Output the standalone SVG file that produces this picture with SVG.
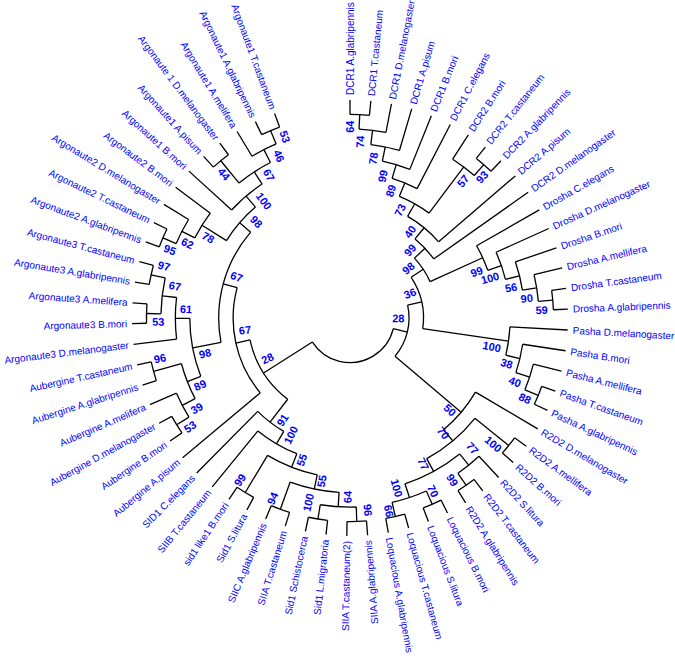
<svg xmlns="http://www.w3.org/2000/svg" width="675" height="658" viewBox="0 0 675 658">
<style>
.e{fill:none;stroke:#000;stroke-width:1.3}
.t{font-family:"Liberation Sans",Arial,sans-serif;font-size:10px;fill:#0000ff;dominant-baseline:central}
.l{text-anchor:end}
.b{font-family:"Liberation Sans",Arial,sans-serif;font-size:11px;font-weight:bold;fill:#0000ff;text-anchor:middle;dominant-baseline:central}
</style>
<rect width="675" height="658" fill="#fff"/>
<g id="connectors" class="e" transform="translate(350 318)">
<circle r="203.55" stroke-dasharray="19.47 9999" transform="rotate(-90)"/>
<circle r="189.1" stroke-dasharray="27.13 9999" transform="rotate(-87.26)"/>
<circle r="174.65" stroke-dasharray="29.23 9999" transform="rotate(-83.15)"/>
<circle r="160.2" stroke-dasharray="28.73 9999" transform="rotate(-78.355)"/>
<circle r="145.75" stroke-dasharray="27.02 9999" transform="rotate(-73.22)"/>
<circle r="203.55" stroke-dasharray="19.47 9999" transform="rotate(-51.64)"/>
<circle r="189.1" stroke-dasharray="27.13 9999" transform="rotate(-57.12)"/>
<circle r="131.3" stroke-dasharray="34.14 9999" transform="rotate(-67.91)"/>
<circle r="116.85" stroke-dasharray="40.34 9999" transform="rotate(-60.46)"/>
<circle r="102.4" stroke-dasharray="27.47 9999" transform="rotate(-50.57)"/>
<circle r="203.55" stroke-dasharray="19.47 9999" transform="rotate(-7.8)"/>
<circle r="189.1" stroke-dasharray="27.13 9999" transform="rotate(-13.28)"/>
<circle r="174.65" stroke-dasharray="29.23 9999" transform="rotate(-18.76)"/>
<circle r="160.2" stroke-dasharray="28.73 9999" transform="rotate(-24.24)"/>
<circle r="145.75" stroke-dasharray="27.02 9999" transform="rotate(-29.72)"/>
<circle r="87.95" stroke-dasharray="28.36 9999" transform="rotate(-42.885)"/>
<circle r="203.55" stroke-dasharray="19.47 9999" transform="rotate(19.6)"/>
<circle r="189.1" stroke-dasharray="27.13 9999" transform="rotate(14.12)"/>
<circle r="174.65" stroke-dasharray="29.23 9999" transform="rotate(8.64)"/>
<circle r="160.2" stroke-dasharray="28.73 9999" transform="rotate(3.16)"/>
<circle r="73.5" stroke-dasharray="53.81 9999" transform="rotate(-33.65)"/>
<circle r="203.55" stroke-dasharray="19.47 9999" transform="rotate(36.04)"/>
<circle r="203.55" stroke-dasharray="19.47 9999" transform="rotate(52.48)"/>
<circle r="189.1" stroke-dasharray="27.13 9999" transform="rotate(47)"/>
<circle r="203.55" stroke-dasharray="19.47 9999" transform="rotate(63.44)"/>
<circle r="203.55" stroke-dasharray="19.47 9999" transform="rotate(74.4)"/>
<circle r="189.1" stroke-dasharray="36.17 9999" transform="rotate(66.18)"/>
<circle r="174.65" stroke-dasharray="62.64 9999" transform="rotate(51.11)"/>
<circle r="160.2" stroke-dasharray="63.2 9999" transform="rotate(38.78)"/>
<circle r="145.75" stroke-dasharray="49.66 9999" transform="rotate(30.56)"/>
<circle r="59.05" stroke-dasharray="54.62 9999" transform="rotate(-12.675)"/>
<circle r="203.55" stroke-dasharray="19.47 9999" transform="rotate(85.36)"/>
<circle r="203.55" stroke-dasharray="19.47 9999" transform="rotate(96.32)"/>
<circle r="189.1" stroke-dasharray="36.17 9999" transform="rotate(88.1)"/>
<circle r="203.55" stroke-dasharray="19.47 9999" transform="rotate(107.28)"/>
<circle r="174.65" stroke-dasharray="50.11 9999" transform="rotate(93.58)"/>
<circle r="203.55" stroke-dasharray="19.47 9999" transform="rotate(118.24)"/>
<circle r="160.2" stroke-dasharray="53.63 9999" transform="rotate(101.8)"/>
<circle r="145.75" stroke-dasharray="45.31 9999" transform="rotate(111.39)"/>
<circle r="131.3" stroke-dasharray="32.96 9999" transform="rotate(120.295)"/>
<circle r="203.55" stroke-dasharray="19.47 9999" transform="rotate(162.08)"/>
<circle r="203.55" stroke-dasharray="19.47 9999" transform="rotate(145.64)"/>
<circle r="189.1" stroke-dasharray="27.13 9999" transform="rotate(148.38)"/>
<circle r="174.65" stroke-dasharray="37.58 9999" transform="rotate(152.49)"/>
<circle r="203.55" stroke-dasharray="19.47 9999" transform="rotate(189.48)"/>
<circle r="203.55" stroke-dasharray="19.47 9999" transform="rotate(178.52)"/>
<circle r="189.1" stroke-dasharray="36.17 9999" transform="rotate(181.26)"/>
<circle r="174.65" stroke-dasharray="41.76 9999" transform="rotate(173.04)"/>
<circle r="160.2" stroke-dasharray="59.37 9999" transform="rotate(158.655)"/>
<circle r="203.55" stroke-dasharray="19.47 9999" transform="rotate(200.44)"/>
<circle r="189.1" stroke-dasharray="27.13 9999" transform="rotate(203.18)"/>
<circle r="174.65" stroke-dasharray="29.23 9999" transform="rotate(207.29)"/>
<circle r="203.55" stroke-dasharray="19.47 9999" transform="rotate(244.28)"/>
<circle r="189.1" stroke-dasharray="27.13 9999" transform="rotate(238.8)"/>
<circle r="203.55" stroke-dasharray="19.47 9999" transform="rotate(227.84)"/>
<circle r="174.65" stroke-dasharray="37.58 9999" transform="rotate(230.58)"/>
<circle r="160.2" stroke-dasharray="40.22 9999" transform="rotate(222.36)"/>
<circle r="145.75" stroke-dasharray="44.43 9999" transform="rotate(212.085)"/>
<circle r="131.3" stroke-dasharray="118.13 9999" transform="rotate(169.27)"/>
<circle r="116.85" stroke-dasharray="111.93 9999" transform="rotate(140.16)"/>
<circle r="102.4" stroke-dasharray="71.69 9999" transform="rotate(127.49)"/>
<circle r="44.6" stroke-dasharray="104.09 9999" transform="rotate(13.82)"/>
<line x1="203.55" x2="218" transform="rotate(-90)"/>
<line x1="203.55" x2="218" transform="rotate(-84.52)"/>
<line x1="189.1" x2="218" transform="rotate(-79.04)"/>
<line x1="174.65" x2="218" transform="rotate(-73.56)"/>
<line x1="160.2" x2="218" transform="rotate(-68.08)"/>
<line x1="145.75" x2="218" transform="rotate(-62.6)"/>
<line x1="189.1" x2="218" transform="rotate(-57.12)"/>
<line x1="203.55" x2="218" transform="rotate(-51.64)"/>
<line x1="203.55" x2="218" transform="rotate(-46.16)"/>
<line x1="116.85" x2="218" transform="rotate(-40.68)"/>
<line x1="102.4" x2="218" transform="rotate(-35.2)"/>
<line x1="145.75" x2="218" transform="rotate(-29.72)"/>
<line x1="160.2" x2="218" transform="rotate(-24.24)"/>
<line x1="174.65" x2="218" transform="rotate(-18.76)"/>
<line x1="189.1" x2="218" transform="rotate(-13.28)"/>
<line x1="203.55" x2="218" transform="rotate(-7.8)"/>
<line x1="203.55" x2="218" transform="rotate(-2.32)"/>
<line x1="160.2" x2="218" transform="rotate(3.16)"/>
<line x1="174.65" x2="218" transform="rotate(8.64)"/>
<line x1="189.1" x2="218" transform="rotate(14.12)"/>
<line x1="203.55" x2="218" transform="rotate(19.6)"/>
<line x1="203.55" x2="218" transform="rotate(25.08)"/>
<line x1="145.75" x2="218" transform="rotate(30.56)"/>
<line x1="203.55" x2="218" transform="rotate(36.04)"/>
<line x1="203.55" x2="218" transform="rotate(41.52)"/>
<line x1="189.1" x2="218" transform="rotate(47)"/>
<line x1="203.55" x2="218" transform="rotate(52.48)"/>
<line x1="203.55" x2="218" transform="rotate(57.96)"/>
<line x1="203.55" x2="218" transform="rotate(63.44)"/>
<line x1="203.55" x2="218" transform="rotate(68.92)"/>
<line x1="203.55" x2="218" transform="rotate(74.4)"/>
<line x1="203.55" x2="218" transform="rotate(79.88)"/>
<line x1="203.55" x2="218" transform="rotate(85.36)"/>
<line x1="203.55" x2="218" transform="rotate(90.84)"/>
<line x1="203.55" x2="218" transform="rotate(96.32)"/>
<line x1="203.55" x2="218" transform="rotate(101.8)"/>
<line x1="203.55" x2="218" transform="rotate(107.28)"/>
<line x1="203.55" x2="218" transform="rotate(112.76)"/>
<line x1="203.55" x2="218" transform="rotate(118.24)"/>
<line x1="203.55" x2="218" transform="rotate(123.72)"/>
<line x1="145.75" x2="218" transform="rotate(129.2)"/>
<line x1="131.3" x2="218" transform="rotate(134.68)"/>
<line x1="116.85" x2="218" transform="rotate(140.16)"/>
<line x1="203.55" x2="218" transform="rotate(145.64)"/>
<line x1="203.55" x2="218" transform="rotate(151.12)"/>
<line x1="189.1" x2="218" transform="rotate(156.6)"/>
<line x1="203.55" x2="218" transform="rotate(162.08)"/>
<line x1="203.55" x2="218" transform="rotate(167.56)"/>
<line x1="174.65" x2="218" transform="rotate(173.04)"/>
<line x1="203.55" x2="218" transform="rotate(178.52)"/>
<line x1="203.55" x2="218" transform="rotate(184)"/>
<line x1="203.55" x2="218" transform="rotate(189.48)"/>
<line x1="203.55" x2="218" transform="rotate(194.96)"/>
<line x1="203.55" x2="218" transform="rotate(200.44)"/>
<line x1="203.55" x2="218" transform="rotate(205.92)"/>
<line x1="189.1" x2="218" transform="rotate(211.4)"/>
<line x1="174.65" x2="218" transform="rotate(216.88)"/>
<line x1="160.2" x2="218" transform="rotate(222.36)"/>
<line x1="203.55" x2="218" transform="rotate(227.84)"/>
<line x1="203.55" x2="218" transform="rotate(233.32)"/>
<line x1="189.1" x2="218" transform="rotate(238.8)"/>
<line x1="203.55" x2="218" transform="rotate(244.28)"/>
<line x1="203.55" x2="218" transform="rotate(249.76)"/>
<line x1="189.1" x2="203.55" transform="rotate(-87.26)"/>
<line x1="174.65" x2="189.1" transform="rotate(-83.15)"/>
<line x1="160.2" x2="174.65" transform="rotate(-78.355)"/>
<line x1="145.75" x2="160.2" transform="rotate(-73.22)"/>
<line x1="131.3" x2="145.75" transform="rotate(-67.91)"/>
<line x1="189.1" x2="203.55" transform="rotate(-48.9)"/>
<line x1="131.3" x2="189.1" transform="rotate(-53.01)"/>
<line x1="116.85" x2="131.3" transform="rotate(-60.46)"/>
<line x1="102.4" x2="116.85" transform="rotate(-50.57)"/>
<line x1="87.95" x2="102.4" transform="rotate(-42.885)"/>
<line x1="189.1" x2="203.55" transform="rotate(-5.06)"/>
<line x1="174.65" x2="189.1" transform="rotate(-9.17)"/>
<line x1="160.2" x2="174.65" transform="rotate(-13.965)"/>
<line x1="145.75" x2="160.2" transform="rotate(-19.1)"/>
<line x1="87.95" x2="145.75" transform="rotate(-24.41)"/>
<line x1="73.5" x2="87.95" transform="rotate(-33.65)"/>
<line x1="189.1" x2="203.55" transform="rotate(22.34)"/>
<line x1="174.65" x2="189.1" transform="rotate(18.23)"/>
<line x1="160.2" x2="174.65" transform="rotate(13.435)"/>
<line x1="73.5" x2="160.2" transform="rotate(8.3)"/>
<line x1="59.05" x2="73.5" transform="rotate(-12.675)"/>
<line x1="160.2" x2="203.55" transform="rotate(38.78)"/>
<line x1="189.1" x2="203.55" transform="rotate(55.22)"/>
<line x1="174.65" x2="189.1" transform="rotate(51.11)"/>
<line x1="189.1" x2="203.55" transform="rotate(66.18)"/>
<line x1="189.1" x2="203.55" transform="rotate(77.14)"/>
<line x1="174.65" x2="189.1" transform="rotate(71.66)"/>
<line x1="160.2" x2="174.65" transform="rotate(61.385)"/>
<line x1="145.75" x2="160.2" transform="rotate(50.08)"/>
<line x1="59.05" x2="145.75" transform="rotate(40.32)"/>
<line x1="44.6" x2="59.05" transform="rotate(13.82)"/>
<line x1="189.1" x2="203.55" transform="rotate(88.1)"/>
<line x1="189.1" x2="203.55" transform="rotate(99.06)"/>
<line x1="174.65" x2="189.1" transform="rotate(93.58)"/>
<line x1="174.65" x2="203.55" transform="rotate(110.02)"/>
<line x1="160.2" x2="174.65" transform="rotate(101.8)"/>
<line x1="160.2" x2="203.55" transform="rotate(120.98)"/>
<line x1="145.75" x2="160.2" transform="rotate(111.39)"/>
<line x1="131.3" x2="145.75" transform="rotate(120.295)"/>
<line x1="102.4" x2="131.3" transform="rotate(127.49)"/>
<line x1="174.65" x2="203.55" transform="rotate(164.82)"/>
<line x1="189.1" x2="203.55" transform="rotate(148.38)"/>
<line x1="174.65" x2="189.1" transform="rotate(152.49)"/>
<line x1="160.2" x2="174.65" transform="rotate(158.655)"/>
<line x1="189.1" x2="203.55" transform="rotate(192.22)"/>
<line x1="189.1" x2="203.55" transform="rotate(181.26)"/>
<line x1="174.65" x2="189.1" transform="rotate(186.74)"/>
<line x1="160.2" x2="174.65" transform="rotate(179.89)"/>
<line x1="131.3" x2="160.2" transform="rotate(169.27)"/>
<line x1="189.1" x2="203.55" transform="rotate(203.18)"/>
<line x1="174.65" x2="189.1" transform="rotate(207.29)"/>
<line x1="145.75" x2="174.65" transform="rotate(212.085)"/>
<line x1="189.1" x2="203.55" transform="rotate(247.02)"/>
<line x1="174.65" x2="189.1" transform="rotate(242.91)"/>
<line x1="174.65" x2="203.55" transform="rotate(230.58)"/>
<line x1="160.2" x2="174.65" transform="rotate(236.745)"/>
<line x1="145.75" x2="160.2" transform="rotate(229.55)"/>
<line x1="131.3" x2="145.75" transform="rotate(220.82)"/>
<line x1="116.85" x2="131.3" transform="rotate(195.045)"/>
<line x1="102.4" x2="116.85" transform="rotate(167.6)"/>
<line x1="44.6" x2="102.4" transform="rotate(147.545)"/>
</g>
<g id="leaves" transform="translate(350 318)">
<g id="leaf01"><text class="t" x="223" transform="rotate(-90)">DCR1 A.glabripennis</text></g>
<g id="leaf02"><text class="t" x="223" transform="rotate(-84.52)">DCR1 T.castaneum</text></g>
<g id="leaf03"><text class="t" x="223" transform="rotate(-79.04)">DCR1 D.melanogaster</text></g>
<g id="leaf04"><text class="t" x="223" transform="rotate(-73.56)">DCR1 A.pisum</text></g>
<g id="leaf05"><text class="t" x="223" transform="rotate(-68.08)">DCR1 B.mori</text></g>
<g id="leaf06"><text class="t" x="223" transform="rotate(-62.6)">DCR1 C.elegans</text></g>
<g id="leaf07"><text class="t" x="223" transform="rotate(-57.12)">DCR2 B.mori</text></g>
<g id="leaf08"><text class="t" x="223" transform="rotate(-51.64)">DCR2 T.castaneum</text></g>
<g id="leaf09"><text class="t" x="223" transform="rotate(-46.16)">DCR2 A.glabripennis</text></g>
<g id="leaf10"><text class="t" x="223" transform="rotate(-40.68)">DCR2 A.pisum</text></g>
<g id="leaf11"><text class="t" x="223" transform="rotate(-35.2)">DCR2 D.melanogaster</text></g>
<g id="leaf12"><text class="t" x="223" transform="rotate(-29.72)">Drosha C.elegans</text></g>
<g id="leaf13"><text class="t" x="223" transform="rotate(-24.24)">Drosha D.melanogaster</text></g>
<g id="leaf14"><text class="t" x="223" transform="rotate(-18.76)">Drosha B.mori</text></g>
<g id="leaf15"><text class="t" x="223" transform="rotate(-13.28)">Drosha A.mellifera</text></g>
<g id="leaf16"><text class="t" x="223" transform="rotate(-7.8)">Drosha T.castaneum</text></g>
<g id="leaf17"><text class="t" x="223" transform="rotate(-2.32)">Drosha A.glabripennis</text></g>
<g id="leaf18"><text class="t" x="223" transform="rotate(3.16)">Pasha D.melanogaster</text></g>
<g id="leaf19"><text class="t" x="223" transform="rotate(8.64)">Pasha B.mori</text></g>
<g id="leaf20"><text class="t" x="223" transform="rotate(14.12)">Pasha A.mellifera</text></g>
<g id="leaf21"><text class="t" x="223" transform="rotate(19.6)">Pasha T.castaneum</text></g>
<g id="leaf22"><text class="t" x="223" transform="rotate(25.08)">Pasha A.glabripennis</text></g>
<g id="leaf23"><text class="t" x="223" transform="rotate(30.56)">R2D2 D.melanogaster</text></g>
<g id="leaf24"><text class="t" x="223" transform="rotate(36.04)">R2D2 A.mellifera</text></g>
<g id="leaf25"><text class="t" x="223" transform="rotate(41.52)">R2D2 B.mori</text></g>
<g id="leaf26"><text class="t" x="223" transform="rotate(47)">R2D2 S.litura</text></g>
<g id="leaf27"><text class="t" x="223" transform="rotate(52.48)">R2D2 T.castaneum</text></g>
<g id="leaf28"><text class="t" x="223" transform="rotate(57.96)">R2D2 A.glabripennis</text></g>
<g id="leaf29"><text class="t" x="223" transform="rotate(63.44)">Loquacious B.mori</text></g>
<g id="leaf30"><text class="t" x="223" transform="rotate(68.92)">Loquacious S.litura</text></g>
<g id="leaf31"><text class="t" x="223" transform="rotate(74.4)">Loquacious T.castaneum</text></g>
<g id="leaf32"><text class="t" x="223" transform="rotate(79.88)">Loquacious A.glabripennis</text></g>
<g id="leaf33"><text class="t l" x="-223" transform="rotate(-94.64)">SIIA A.glabripennis</text></g>
<g id="leaf34"><text class="t l" x="-223" transform="rotate(-89.16)">SIIA T.castaneum(2)</text></g>
<g id="leaf35"><text class="t l" x="-223" transform="rotate(-83.68)">Sid1 L.migratoria</text></g>
<g id="leaf36"><text class="t l" x="-223" transform="rotate(-78.2)">Sid1 Schistocerca</text></g>
<g id="leaf37"><text class="t l" x="-223" transform="rotate(-72.72)">SIIA T.castaneum</text></g>
<g id="leaf38"><text class="t l" x="-223" transform="rotate(-67.24)">SIIC A.glabripennis</text></g>
<g id="leaf39"><text class="t l" x="-223" transform="rotate(-61.76)">Sid1 S.litura</text></g>
<g id="leaf40"><text class="t l" x="-223" transform="rotate(-56.28)">sid1 like1 B.mori</text></g>
<g id="leaf41"><text class="t l" x="-223" transform="rotate(-50.8)">SIIB T.castaneum</text></g>
<g id="leaf42"><text class="t l" x="-223" transform="rotate(-45.32)">SID1 C.elegans</text></g>
<g id="leaf43"><text class="t l" x="-223" transform="rotate(-39.84)">Aubergine A.pisum</text></g>
<g id="leaf44"><text class="t l" x="-223" transform="rotate(-34.36)">Aubergine B.mori</text></g>
<g id="leaf45"><text class="t l" x="-223" transform="rotate(-28.88)">Aubergine D.melanogaster</text></g>
<g id="leaf46"><text class="t l" x="-223" transform="rotate(-23.4)">Aubergine A.melifera</text></g>
<g id="leaf47"><text class="t l" x="-223" transform="rotate(-17.92)">Aubergine A.glabripennis</text></g>
<g id="leaf48"><text class="t l" x="-223" transform="rotate(-12.44)">Aubergine T.castaneum</text></g>
<g id="leaf49"><text class="t l" x="-223" transform="rotate(-6.96)">Argonaute3 D.melanogaster</text></g>
<g id="leaf50"><text class="t l" x="-223" transform="rotate(-1.48)">Argonaute3 B.mori</text></g>
<g id="leaf51"><text class="t l" x="-223" transform="rotate(4)">Argonaute3 A.melifera</text></g>
<g id="leaf52"><text class="t l" x="-223" transform="rotate(9.48)">Argonaute3 A.glabripennis</text></g>
<g id="leaf53"><text class="t l" x="-223" transform="rotate(14.96)">Argonaute3 T.castaneum</text></g>
<g id="leaf54"><text class="t l" x="-223" transform="rotate(20.44)">Argonaute2 A.glabripennis</text></g>
<g id="leaf55"><text class="t l" x="-223" transform="rotate(25.92)">Argonaute2 T.castaneum</text></g>
<g id="leaf56"><text class="t l" x="-223" transform="rotate(31.4)">Argonaute2 D.melanogaster</text></g>
<g id="leaf57"><text class="t l" x="-223" transform="rotate(36.88)">Argonaute2 B.mori</text></g>
<g id="leaf58"><text class="t l" x="-223" transform="rotate(42.36)">Argonaute1 B.mori</text></g>
<g id="leaf59"><text class="t l" x="-223" transform="rotate(47.84)">Argonaute1 A.pisum</text></g>
<g id="leaf60"><text class="t l" x="-223" transform="rotate(53.32)">Argonaute 1 D.melanogaster</text></g>
<g id="leaf61"><text class="t l" x="-223" transform="rotate(58.8)">Argonaute1 A.melifera</text></g>
<g id="leaf62"><text class="t l" x="-223" transform="rotate(64.28)">Argonaute1 A.glabripennis</text></g>
<g id="leaf63"><text class="t l" x="-223" transform="rotate(69.76)">Argonaute1 T.castaneum</text></g>
</g>
<g id="bootstrap">
<g id="bs01"><text class="b" x="350" y="126.7" transform="rotate(-90 350 126.7)">64</text></g>
<g id="bs02"><text class="b" x="360" y="141.7" transform="rotate(-86.75 360 141.7)">74</text></g>
<g id="bs03"><text class="b" x="373.3" y="158.3" transform="rotate(-81.7 373.3 158.3)">78</text></g>
<g id="bs04"><text class="b" x="382.7" y="176" transform="rotate(-77 382.7 176)">99</text></g>
<g id="bs05"><text class="b" x="390.7" y="190.7" transform="rotate(-72.3 390.7 190.7)">89</text></g>
<g id="bs06"><text class="b" x="400" y="210" transform="rotate(-65.2 400 210)">73</text></g>
<g id="bs07"><text class="b" x="410" y="231.7" transform="rotate(-55.2 410 231.7)">40</text></g>
<g id="bs08"><text class="b" x="410" y="250" transform="rotate(-48.6 410 250)">99</text></g>
<g id="bs09"><text class="b" x="408.3" y="268.3" transform="rotate(-40.4 408.3 268.3)">98</text></g>
<g id="bs10"><text class="b" x="410" y="293.3" transform="rotate(-22.4 410 293.3)">36</text></g>
<g id="bs11"><text class="b" x="398.3" y="318.3" transform="rotate(0.4 398.3 318.3)">28</text></g>
<g id="bs12"><text class="b" x="463" y="181" transform="rotate(-50.5 463 181)">57</text></g>
<g id="bs13"><text class="b" x="482" y="177" transform="rotate(-46.9 482 177)">93</text></g>
<g id="bs14"><text class="b" x="476.7" y="271.7" transform="rotate(-20.1 476.7 271.7)">99</text></g>
<g id="bs15"><text class="b" x="490" y="278" transform="rotate(-15.9 490 278)">100</text></g>
<g id="bs16"><text class="b" x="511" y="287.5" transform="rotate(-10.7 511 287.5)">56</text></g>
<g id="bs17"><text class="b" x="526.7" y="298.3" transform="rotate(-6.4 526.7 298.3)">90</text></g>
<g id="bs18"><text class="b" x="541.7" y="310" transform="rotate(-2.4 541.7 310)">59</text></g>
<g id="bs19"><text class="b" x="491.7" y="346.7" transform="rotate(11.4 491.7 346.7)">100</text></g>
<g id="bs20"><text class="b" x="506.7" y="363.3" transform="rotate(16.1 506.7 363.3)">38</text></g>
<g id="bs21"><text class="b" x="515" y="381.7" transform="rotate(21.1 515 381.7)">40</text></g>
<g id="bs22"><text class="b" x="525" y="398.3" transform="rotate(24.6 525 398.3)">88</text></g>
<g id="bs23"><text class="b" x="450" y="410" transform="rotate(42.6 450 410)">50</text></g>
<g id="bs24"><text class="b" x="443.3" y="433" transform="rotate(50.9 443.3 433)">70</text></g>
<g id="bs25"><text class="b" x="423.3" y="464" transform="rotate(63.3 423.3 464)">77</text></g>
<g id="bs26"><text class="b" x="396.7" y="488" transform="rotate(74.6 396.7 488)">100</text></g>
<g id="bs27"><text class="b" x="493.3" y="444" transform="rotate(41.3 493.3 444)">100</text></g>
<g id="bs28"><text class="b" x="472.5" y="448.3" transform="rotate(46.8 472.5 448.3)">77</text></g>
<g id="bs29"><text class="b" x="452.5" y="480" transform="rotate(57.7 452.5 480)">99</text></g>
<g id="bs30"><text class="b" x="433" y="491" transform="rotate(64.4 433 491)">70</text></g>
<g id="bs31"><text class="b" x="389" y="511" transform="rotate(78.6 389 511)">66</text></g>
<g id="bs32"><text class="b" x="367.5" y="510" transform="rotate(-95.2 367.5 510)">96</text></g>
<g id="bs33"><text class="b" x="347.5" y="497" transform="rotate(-89.2 347.5 497)">64</text></g>
<g id="bs34"><text class="b" x="308.3" y="502.5" transform="rotate(-77.3 308.3 502.5)">100</text></g>
<g id="bs35"><text class="b" x="321.7" y="481" transform="rotate(-80.2 321.7 481)">55</text></g>
<g id="bs36"><text class="b" x="301.7" y="460" transform="rotate(-71.2 301.7 460)">55</text></g>
<g id="bs37"><text class="b" x="272.5" y="498.3" transform="rotate(-66.7 272.5 498.3)">94</text></g>
<g id="bs38"><text class="b" x="240" y="480" transform="rotate(-55.8 240 480)">99</text></g>
<g id="bs39"><text class="b" x="290.8" y="435" transform="rotate(-63.2 290.8 435)">100</text></g>
<g id="bs40"><text class="b" x="282.5" y="420" transform="rotate(-56.5 282.5 420)">91</text></g>
<g id="bs41"><text class="b" x="267.5" y="358.3" transform="rotate(-26 267.5 358.3)">28</text></g>
<g id="bs42"><text class="b" x="190" y="426.7" transform="rotate(-34.2 190 426.7)">53</text></g>
<g id="bs43"><text class="b" x="196.7" y="408.3" transform="rotate(-30.5 196.7 408.3)">39</text></g>
<g id="bs44"><text class="b" x="200" y="385" transform="rotate(-24.1 200 385)">89</text></g>
<g id="bs45"><text class="b" x="160" y="358.3" transform="rotate(-12 160 358.3)">96</text></g>
<g id="bs46"><text class="b" x="205" y="353.3" transform="rotate(-13.7 205 353.3)">98</text></g>
<g id="bs47"><text class="b" x="245" y="330" transform="rotate(-6.5 245 330)">67</text></g>
<g id="bs48"><text class="b" x="158.3" y="321.7" transform="rotate(-1.1 158.3 321.7)">53</text></g>
<g id="bs49"><text class="b" x="186" y="309" transform="rotate(3.1 186 309)">61</text></g>
<g id="bs50"><text class="b" x="175" y="286" transform="rotate(10.4 175 286)">67</text></g>
<g id="bs51"><text class="b" x="164" y="266" transform="rotate(15.6 164 266)">97</text></g>
<g id="bs52"><text class="b" x="236.7" y="276.7" transform="rotate(20 236.7 276.7)">67</text></g>
<g id="bs53"><text class="b" x="170" y="249.7" transform="rotate(20.8 170 249.7)">95</text></g>
<g id="bs54"><text class="b" x="187.5" y="243.3" transform="rotate(24.7 187.5 243.3)">62</text></g>
<g id="bs55"><text class="b" x="208.3" y="237.5" transform="rotate(29.6 208.3 237.5)">78</text></g>
<g id="bs56"><text class="b" x="256.3" y="221.7" transform="rotate(45.8 256.3 221.7)">98</text></g>
<g id="bs57"><text class="b" x="264" y="201" transform="rotate(53.7 264 201)">100</text></g>
<g id="bs58"><text class="b" x="224" y="174" transform="rotate(48.8 224 174)">44</text></g>
<g id="bs59"><text class="b" x="269" y="175" transform="rotate(60.5 269 175)">67</text></g>
<g id="bs60"><text class="b" x="279" y="156" transform="rotate(66.3 279 156)">46</text></g>
<g id="bs61"><text class="b" x="285" y="136.7" transform="rotate(70.3 285 136.7)">53</text></g>
</g>
</svg>
